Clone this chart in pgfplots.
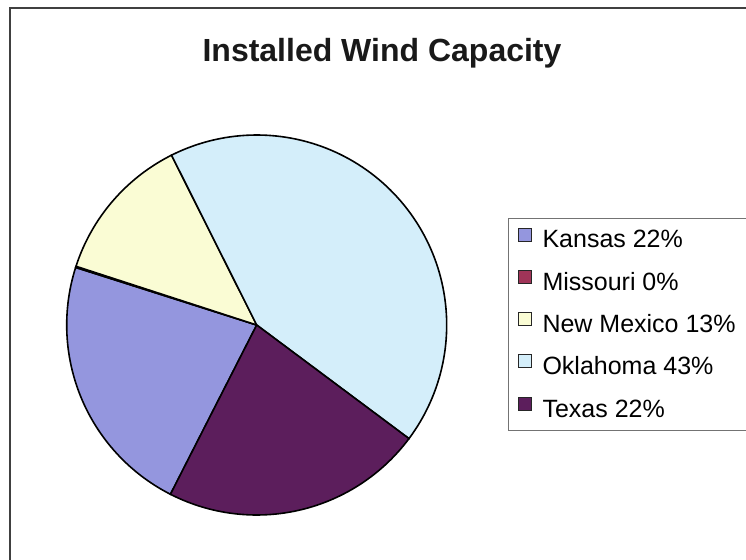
\documentclass[border=0pt]{standalone}
\usepackage{pgfplots}
\pgfplotsset{compat=1.18}
\usepackage{fontspec}
\setmainfont{Liberation Sans}
\definecolor{kansas}{RGB}{148,150,222}
\definecolor{missouri}{RGB}{160,52,88}
\definecolor{newmexico}{RGB}{250,252,212}
\definecolor{oklahoma}{RGB}{212,238,250}
\definecolor{texas}{RGB}{92,30,92}
% shares of installed wind capacity (percent)
\def\vKansas{22.4}
\def\vMissouri{0.1}
\def\vNewMexico{12.6}
\def\vOklahoma{42.6}
\def\vTexas{22.3}
% cumulative angles, clockwise from 243 degrees
\pgfmathsetmacro\aA{243}
\pgfmathsetmacro\aB{\aA-3.6*\vKansas}
\pgfmathsetmacro\aC{\aB-3.6*\vMissouri}
\pgfmathsetmacro\aD{\aC-3.6*\vNewMexico}
\pgfmathsetmacro\aE{\aD-3.6*\vOklahoma}
\pgfmathsetmacro\aF{\aE-3.6*\vTexas}
\begin{document}
\begin{tikzpicture}
\path[use as bounding box, clip] (0,0) rectangle (373pt,279.5pt);
\begin{axis}[
  at={(0,0)}, anchor=south west,
  width=373pt, height=279.5pt, scale only axis,
  xmin=0, xmax=746, ymin=0, ymax=559,
  hide axis,
  legend style={at={(0.681,0.61)}, anchor=north west,
    draw=black!55, line width=0.5pt, inner sep=4.5pt,
    row sep=8.8pt, column sep=5.5pt,
    font=\fontsize{12.5}{15}\selectfont,
    nodes={inner sep=0pt, text height=9.6pt, text depth=2.2pt}},
  legend cell align=left,
  legend image code/.code={\draw[#1, draw=black!85, line width=0.5pt] (0pt,-0.3pt) rectangle (6.5pt,6.2pt);},
]
\addplot[fill=kansas, draw=black, line width=0.8pt, domain=\aB:\aA, samples=60, variable=\t]
  ({256.7+190*cos(\t)},{234+190*sin(\t)}) -- (axis cs:256.7,234) -- cycle;
\addlegendentry{\makebox[105pt][l]{Kansas 22\%}}
\addplot[fill=missouri, draw=black, line width=0.8pt, domain=\aC:\aB, samples=2, variable=\t]
  ({256.7+190*cos(\t)},{234+190*sin(\t)}) -- (axis cs:256.7,234) -- cycle;
\addlegendentry{Missouri 0\%}
\addplot[fill=newmexico, draw=black, line width=0.8pt, domain=\aD:\aC, samples=40, variable=\t]
  ({256.7+190*cos(\t)},{234+190*sin(\t)}) -- (axis cs:256.7,234) -- cycle;
\addlegendentry{New Mexico 13\%}
\addplot[fill=oklahoma, draw=black, line width=0.8pt, domain=\aE:\aD, samples=100, variable=\t]
  ({256.7+190*cos(\t)},{234+190*sin(\t)}) -- (axis cs:256.7,234) -- cycle;
\addlegendentry{Oklahoma 43\%}
\addplot[fill=texas, draw=black, line width=0.8pt, domain=\aF:\aE, samples=60, variable=\t]
  ({256.7+190*cos(\t)},{234+190*sin(\t)}) -- (axis cs:256.7,234) -- cycle;
\addlegendentry{Texas 22\%}
\draw[black!75, line width=0.8pt] (axis cs:10,-20) -- (axis cs:10,551) -- (axis cs:800,551);
\node[anchor=base, font=\bfseries\fontsize{16}{19}\selectfont, text=black!90] at (axis cs:382,497.3) {Installed Wind Capacity};
\end{axis}
\end{tikzpicture}
\end{document}
